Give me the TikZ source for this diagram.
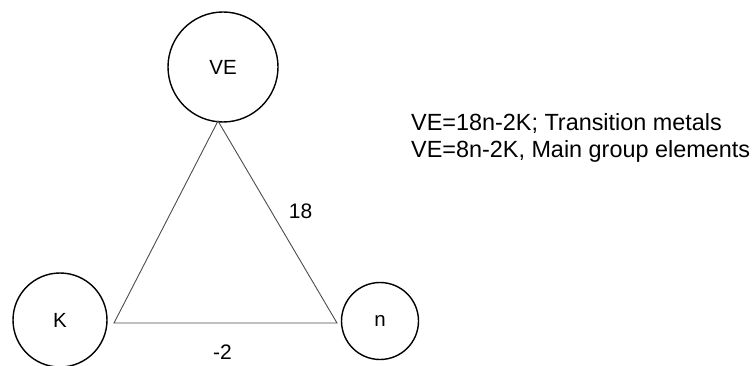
\documentclass[tikz,border=0pt]{standalone}
\usepackage{fontspec}
\setmainfont{Liberation Sans}
\begin{document}
\begin{tikzpicture}[x=1pt,y=-1pt,
  ball/.style={circle,draw=black,line width=1.4pt,inner sep=0pt,font=\fontsize{20.5}{24}\selectfont},
  lbl/.style={inner sep=0pt,font=\fontsize{21}{24}\selectfont},
  edge/.style={draw=black!70,line width=0.9pt}]
\useasboundingbox (0,0) rectangle (752,366);
\node[ball,minimum size=110] (VE) at (223,67) {VE};
\node[ball,minimum size=94] (K) at (60,320) {K};
\node[ball,minimum size=77] (n) at (380,321) {n};
\coordinate (a) at (218,121);
\coordinate (b) at (114,323);
\coordinate (c) at (337,323);
\draw[edge] (a) -- (b) -- (c) -- cycle;
\node[lbl] (l18) at (300.5,211) {18};
\node[lbl] (lm2) at (222.5,352) {-2};
\node[lbl,anchor=base west,align=left,font=\fontsize{23.4}{27}\selectfont] (eq) at (411,158) {VE=18n-2K; Transition metals\\VE=8n-2K, Main group elements};
\end{tikzpicture}
\end{document}
